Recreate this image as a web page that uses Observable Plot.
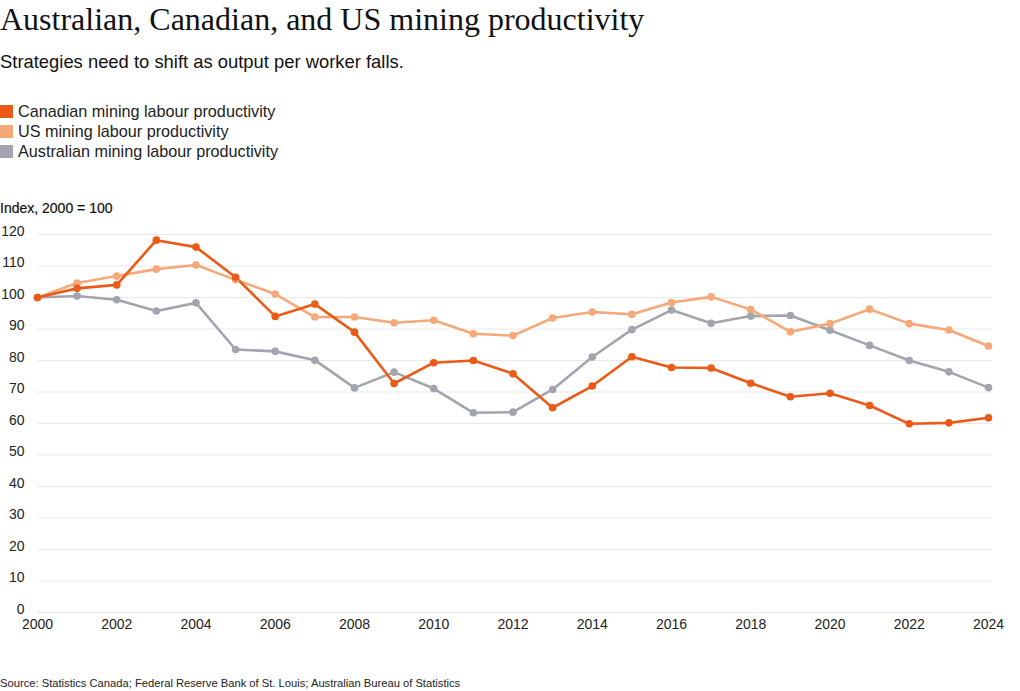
<!DOCTYPE html>
<html>
<head>
<meta charset="utf-8">
<script src="https://cdn.jsdelivr.net/npm/d3@7"></script>
<script src="https://cdn.jsdelivr.net/npm/@observablehq/plot@0.6"></script>
<style>
  html, body { margin: 0; padding: 0; background: #fff; }
  body { width: 1020px; height: 691px; position: relative; overflow: hidden; font-family: "Liberation Sans", Arial, sans-serif; color: #111; }
  #title { position: absolute; left: 0; top: 1px; font-family: "Liberation Serif", serif; font-size: 32px; color: #111; white-space: nowrap; }
  #subtitle { position: absolute; left: 0; top: 51px; font-size: 18.4px; color: #111; white-space: nowrap; }
  #legend { position: absolute; left: 0; top: 101px; font-size: 16.2px; color: #222; }
  .item { height: 20px; line-height: 20px; display: flex; align-items: center; white-space: nowrap; }
  .sw { width: 13px; height: 13px; margin-right: 5px; display: inline-block; }
  #ylabel { position: absolute; left: 0; top: 200px; font-size: 14px; color: #111; -webkit-text-stroke: 0.2px #111; white-space: nowrap; }
  #chart { position: absolute; left: 0; top: 200px; }
  #source { position: absolute; left: 0; top: 677px; font-size: 11.2px; color: #222; white-space: nowrap; }
</style>
</head>
<body>
<div id="title">Australian, Canadian, and US mining productivity</div>
<div id="subtitle">Strategies need to shift as output per worker falls.</div>
<div id="legend"></div>
<div id="ylabel">Index, 2000 = 100</div>
<div id="chart"></div>
<div id="source">Source: Statistics Canada; Federal Reserve Bank of St. Louis; Australian Bureau of Statistics</div>
<script>
const years = [2000, 2001, 2002, 2003, 2004, 2005, 2006, 2007, 2008, 2009, 2010, 2011, 2012,
               2013, 2014, 2015, 2016, 2017, 2018, 2019, 2020, 2021, 2022, 2023, 2024];
const canada = [100, 102.9, 104.0, 118.2, 116.0, 106.4, 94.0, 97.9, 89.0, 72.7, 79.3, 80.0, 75.8,
                65.0, 71.9, 81.2, 77.8, 77.6, 72.8, 68.5, 69.6, 65.7, 59.9, 60.2, 61.8];
const us = [100, 104.6, 106.8, 109.0, 110.3, 105.6, 101.1, 93.8, 93.8, 92.0, 92.8, 88.5, 87.9,
            93.5, 95.4, 94.7, 98.4, 100.2, 96.2, 89.1, 91.7, 96.3, 91.7, 89.7, 84.6];
const australia = [100, 100.5, 99.3, 95.7, 98.3, 83.5, 82.9, 80.1, 71.3, 76.3, 71.1, 63.4, 63.6,
                   70.8, 81.1, 89.8, 96.0, 91.8, 94.1, 94.3, 89.6, 84.8, 80.0, 76.4, 71.4];
const seriesNames = ["Canadian mining labour productivity", "US mining labour productivity", "Australian mining labour productivity"];
const seriesColors = ["#ec5a17", "#f5a878", "#a2a5ad"];
const yTicks = [0, 10, 20, 30, 40, 50, 60, 70, 80, 90, 100, 110, 120];
const xTicks = [2000, 2002, 2004, 2006, 2008, 2010, 2012, 2014, 2016, 2018, 2020, 2022, 2024];

const seriesValues = [canada, us, australia];
const data = [];
// draw order: Australian, US, Canadian (Canadian on top)
[2, 1, 0].forEach(si => {
  years.forEach((yr, i) => data.push({ year: yr, value: seriesValues[si][i], series: seriesNames[si] }));
});

const legend = document.getElementById("legend");
seriesNames.forEach((n, i) => {
  const d = document.createElement("div");
  d.className = "item";
  d.innerHTML = `<span class="sw" style="background:${seriesColors[i]}"></span>${n}`;
  legend.appendChild(d);
});

const chart = Plot.plot({
  width: 1020,
  height: 440,
  marginTop: 34,
  marginBottom: 28,
  marginLeft: 37,
  marginRight: 32,
  style: { fontFamily: "'Liberation Sans', Arial, sans-serif", fontSize: "14px", color: "#222", background: "transparent" },
  x: { domain: [2000, 2024], ticks: xTicks, tickFormat: d => String(d) },
  y: { domain: [0, 120], ticks: yTicks },
  color: { domain: seriesNames, range: seriesColors },
  marks: [
    Plot.ruleY(yTicks, { stroke: "#e9e9e9", strokeWidth: 1, insetRight: -4 }),
    Plot.axisY({ ticks: yTicks, tickSize: 0, tickPadding: 13, label: null, dy: -3, fill: "#222" }),
    Plot.axisX({ ticks: xTicks, tickSize: 0, tickPadding: 7, label: null, tickFormat: d => String(d), fill: "#222" }),
    Plot.line(data, { x: "year", y: "value", z: "series", stroke: "series", strokeWidth: 2.6, curve: "linear" }),
    Plot.dot(data, { x: "year", y: "value", fill: "series", r: 3.8, stroke: null })
  ]
});
document.getElementById("chart").appendChild(chart);
</script>
</body>
</html>
